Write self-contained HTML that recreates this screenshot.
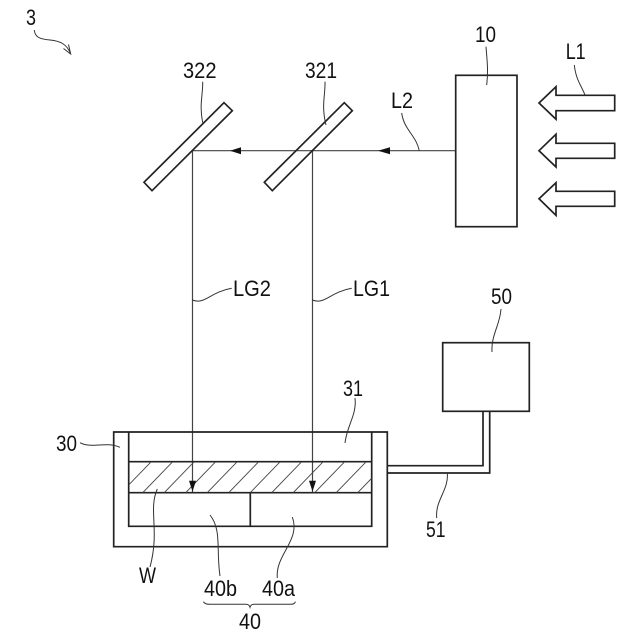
<!DOCTYPE html>
<html>
<head>
<meta charset="utf-8">
<style>
html,body{margin:0;padding:0;background:#fff;width:640px;height:640px;overflow:hidden}
svg{display:block}
text{font-family:"Liberation Sans",sans-serif;font-size:22px;fill:#111}
.b{fill:#fff;stroke:#222;stroke-width:1.6}
.n{fill:none;stroke:#222;stroke-width:1.7}
.l{fill:none;stroke:#333;stroke-width:1}
.r{fill:none;stroke:#444;stroke-width:1.2}
.h{stroke:#444;stroke-width:.9}
.a{fill:#111;stroke:none}
</style>
</head>
<body>
<svg width="640" height="640" viewBox="0 0 640 640" xmlns="http://www.w3.org/2000/svg">
<defs><clipPath id="c"><rect x="129" y="462" width="242.500" height="30.500"/></clipPath></defs>

<!-- rays -->
<path class="r" d="M455.700 150.700H192.500V492M312.500 150.700V492"/>
<path class="a" d="M230 150.700L241 147.200V154.200Z"/>
<path class="a" d="M378 150.700L390 147.200V154.200Z"/>

<!-- mirrors -->
<path class="n" d="M224 102.700L232.300 110.700L152 190.700L144 182.300Z"/>
<path class="n" d="M344.300 102.700L352.300 110.700L272.300 190.700L264.300 182.300Z"/>

<!-- source 10 -->
<rect class="n" x="455.700" y="75.300" width="61.300" height="151.400"/>

<!-- incoming arrows -->
<path class="n" d="M539 103L556 86.700V95.300H614.700V110.700H556V119.300Z"/>
<path class="n" d="M539 150.700L556 134.300V143.300H614.700V158.300H556V167Z"/>
<path class="n" d="M539 198.700L556 182.700V191.300H614.700V206.300H556V215.300Z"/>

<!-- chamber -->
<path class="n" d="M113.700 432H387.300V546.700H113.700Z"/>
<path class="n" d="M128.700 432V526.300H371.700V432"/>
<path class="n" d="M128.700 461.700H371.700M128.700 492.700H371.700M250.300 492.700V526.300"/>
<g clip-path="url(#c)">
<line class="h" x1="121.200" y1="492.700" x2="151.200" y2="461.700"/>
<line class="h" x1="142.700" y1="492.700" x2="172.700" y2="461.700"/>
<line class="h" x1="164.200" y1="492.700" x2="194.200" y2="461.700"/>
<line class="h" x1="185.700" y1="492.700" x2="215.700" y2="461.700"/>
<line class="h" x1="207.200" y1="492.700" x2="237.200" y2="461.700"/>
<line class="h" x1="228.700" y1="492.700" x2="258.700" y2="461.700"/>
<line class="h" x1="250.200" y1="492.700" x2="280.200" y2="461.700"/>
<line class="h" x1="271.700" y1="492.700" x2="301.700" y2="461.700"/>
<line class="h" x1="293.200" y1="492.700" x2="323.200" y2="461.700"/>
<line class="h" x1="314.700" y1="492.700" x2="344.700" y2="461.700"/>
<line class="h" x1="336.200" y1="492.700" x2="366.200" y2="461.700"/>
<line class="h" x1="357.700" y1="492.700" x2="387.700" y2="461.700"/>
</g>
<path class="a" d="M192.500 491.500L189 480.700H196Z"/>
<path class="a" d="M312.500 491.500L309 480.700H316Z"/>

<!-- controller 50 and pipe 51 -->
<rect class="n" x="442.700" y="342.700" width="86.600" height="68.600"/>
<path class="n" d="M483 411.300V465.700H387.300M489.700 411.300V473H387.300"/>

<!-- leaders -->
<path class="l" d="M34.300 30C35 37 39 39 50 40C60 41 67 44 70.700 54M63.500 48.500L70.700 54L68.500 44.500"/>
<path class="l" d="M202.700 81.700C203 95 199 105 202.700 122.700"/>
<path class="l" d="M325 81.700C325.500 95 321 105 326 125"/>
<path class="l" d="M486 46.700C487 60 488.500 70 486.700 85"/>
<path class="l" d="M574.300 65C576 80 581 85 585 95"/>
<path class="l" d="M401.700 113C404 130 416 135 419.300 150.700"/>
<path class="l" d="M192.300 300C205 305 210 292 231.700 288.300"/>
<path class="l" d="M312.300 300C325 305 330 292 351.700 288.300"/>
<path class="l" d="M80 442.700C92 449 105 441 120 447.300"/>
<path class="l" d="M157.300 489C148 510 160 530 150 567"/>
<path class="l" d="M210 515C222 530 216 550 220 576"/>
<path class="l" d="M355 398C357 415 347 425 345 443"/>
<path class="l" d="M292.300 517C301 540 275 555 277.300 578"/>
<path class="l" d="M501 309C500 325 491 335 492 352"/>
<path class="l" d="M447.300 473C449 490 435 500 436.700 518"/>
<path class="l" d="M203.300 601.700C205 604 207 604.300 210 604.300H246C248 604.300 249.500 605.500 250 607.300C250.500 605.500 252 604.300 254 604.300H290C293 604.300 294.500 604 295.500 601.700"/>

<!-- labels -->
<text x="26" y="25" textLength="10" lengthAdjust="spacingAndGlyphs">3</text>
<text x="183" y="78" textLength="33.500" lengthAdjust="spacingAndGlyphs">322</text>
<text x="305" y="78" textLength="32" lengthAdjust="spacingAndGlyphs">321</text>
<text x="475" y="42" textLength="21" lengthAdjust="spacingAndGlyphs">10</text>
<text x="565.700" y="59" textLength="20" lengthAdjust="spacingAndGlyphs">L1</text>
<text x="391" y="108" textLength="22" lengthAdjust="spacingAndGlyphs">L2</text>
<text x="233" y="296" textLength="38" lengthAdjust="spacingAndGlyphs">LG2</text>
<text x="353" y="296" textLength="37" lengthAdjust="spacingAndGlyphs">LG1</text>
<text x="491" y="304" textLength="21" lengthAdjust="spacingAndGlyphs">50</text>
<text x="343" y="396" textLength="20" lengthAdjust="spacingAndGlyphs">31</text>
<text x="56" y="451" textLength="21" lengthAdjust="spacingAndGlyphs">30</text>
<text x="426" y="537" textLength="19.500" lengthAdjust="spacingAndGlyphs">51</text>
<text x="139" y="583" textLength="17" lengthAdjust="spacingAndGlyphs">W</text>
<text x="204" y="596" textLength="33" lengthAdjust="spacingAndGlyphs">40b</text>
<text x="262" y="596" textLength="33" lengthAdjust="spacingAndGlyphs">40a</text>
<text x="239" y="629" textLength="22" lengthAdjust="spacingAndGlyphs">40</text>
</svg>
</body>
</html>
